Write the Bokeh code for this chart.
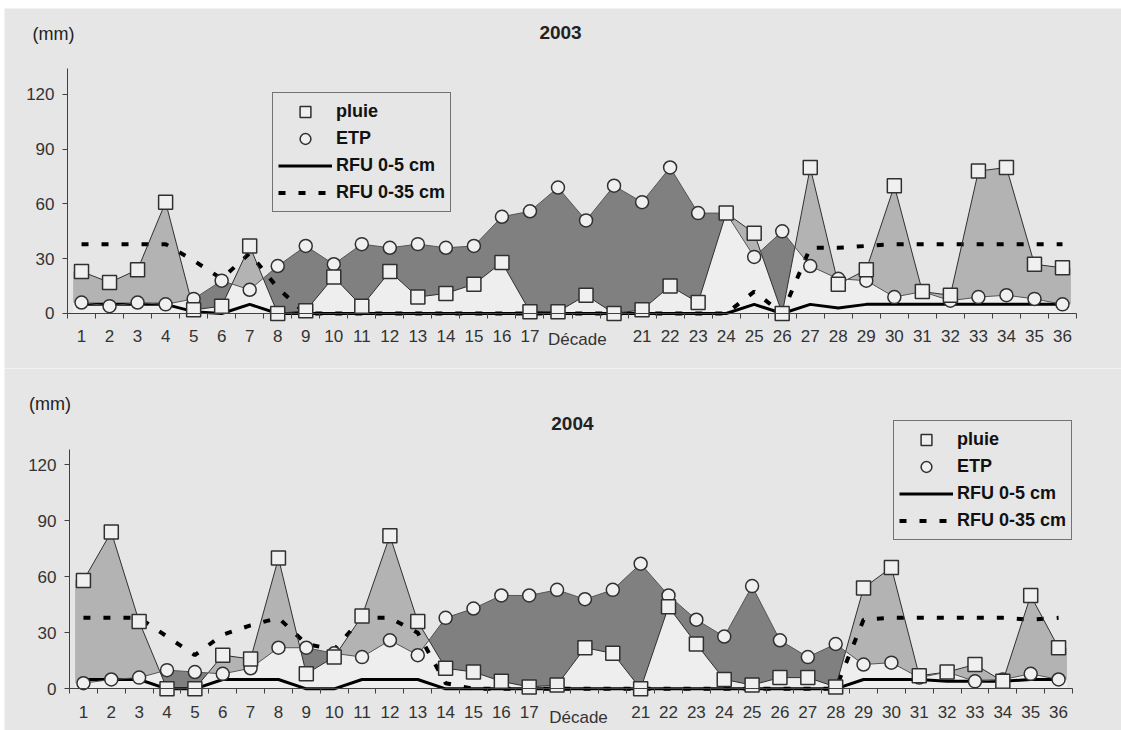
import numpy as np
from bokeh.plotting import figure
from bokeh.layouts import column
from bokeh.models import (Range1d, FixedTicker, Legend, LegendItem, Label,
                          LinearAxis)
from bokeh.embed import file_html
from bokeh.resources import INLINE

decades = list(range(1, 37))
x_tick_labels = {d: str(d) for d in decades if d not in (18, 19, 20)}
y_ticks = [0, 30, 60, 90, 120]

pluie_2003 = [23, 17, 24, 61, 2, 4, 37, 0, 1.5, 20, 4, 23, 9, 11, 16, 28, 1, 1,
              10, 0, 2, 15, 6, 55, 44, 0, 80, 16, 24, 70, 12, 10, 78, 80, 27, 25]
etp_2003 = [6, 4, 6, 5, 8, 18, 13, 26, 37, 27, 38, 36, 38, 36, 37, 53, 56, 69,
            51, 70, 61, 80, 55, 55, 31, 45, 26, 19, 18, 9, 12, 7, 9, 10, 8, 5]
rfu5_2003 = [5, 5, 5, 5, 1, 0, 5, 0, 0, 0, 0, 0, 0, 0, 0, 0, 0, 0,
             0, 0, 0, 0, 0, 0, 5, 0, 5, 3, 5, 5, 5, 5, 5, 5, 5, 5]
rfu35_2003 = [38, 38, 38, 38, 29, 19, 33, 14, 0, 0, 0, 0, 0, 0, 0, 0, 0, 0,
              0, 0, 0, 0, 0, 0, 12, 0, 36, 36, 37, 38, 38, 38, 38, 38, 38, 38]

pluie_2004 = [58, 84, 36, 0, 0, 18, 16, 70, 8, 17, 39, 82, 36, 11, 9, 4, 1, 2,
              22, 19, 0, 44, 24, 5, 2, 6, 6, 1, 54, 65, 7, 9, 13, 4, 50, 22]
etp_2004 = [3, 5, 6, 10, 9, 8, 11, 22, 22, 19, 17, 26, 18, 38, 43, 50, 50, 53,
            48, 53, 67, 50, 37, 28, 55, 26, 17, 24, 13, 14, 6, 9, 4, 5, 8, 5]
rfu5_2004 = [5, 5, 5, 0, 0, 5, 5, 5, 0, 0, 5, 5, 5, 0, 0, 0, 0, 0,
             0, 0, 0, 0, 0, 0, 0, 0, 0, 0, 5, 5, 5, 4, 4, 4, 5, 5]
rfu35_2004 = [38, 38, 38, 28, 18, 29, 34, 38, 24, 21, 38, 38, 30, 3, 0, 0, 0, 0,
              0, 0, 0, 0, 0, 0, 0, 0, 0, 0, 37, 38, 38, 38, 38, 38, 37, 38]

BG = "#e6e6e6"
UNDER = "#eeeeee"
LIGHT = "#b3b3b3"
DARK = "#808080"
FONT = "Liberation Sans"
EDGE = "#303030"
ROW_H = 27
PAD = 5
GLYPH_W = 54
FIG_W = 1121
LEFT_BORDER = 4


def densify(xv, p, e, pad=0.3):
    xs, ps, es = [xv[0] - pad], [p[0]], [e[0]]
    n = len(xv)
    for i in range(n):
        xs.append(xv[i]); ps.append(p[i]); es.append(e[i])
        if i < n - 1:
            d0 = p[i] - e[i]
            d1 = p[i + 1] - e[i + 1]
            if d0 * d1 < 0:
                t = d0 / (d0 - d1)
                yc = p[i] + t * (p[i + 1] - p[i])
                xs.append(xv[i] + t); ps.append(yc); es.append(yc)
    xs.append(xv[-1] + pad); ps.append(p[-1]); es.append(e[-1])
    return np.array(xs), np.array(ps, dtype=float), np.array(es, dtype=float)


def style_legend(lg, loc):
    lg.location = loc
    lg.label_text_font = FONT
    lg.label_text_font_size = "18px"
    lg.label_text_font_style = "bold"
    lg.label_text_color = "#111111"
    lg.glyph_width = GLYPH_W
    lg.glyph_height = ROW_H
    lg.label_height = ROW_H
    lg.spacing = 0
    lg.padding = PAD
    lg.margin = 0
    lg.label_standoff = 4
    lg.border_line_color = "black"
    lg.border_line_width = 1
    lg.background_fill_color = BG
    lg.background_fill_alpha = 1


def make_chart(pluie, etp, rfu5, rfu35, ymax, height, top_border, xr, yr, year,
               title_xy, mm_xy, decade_xy, legend_loc):
    p = figure(width=FIG_W, height=height, output_backend="svg",
               toolbar_location=None, x_range=Range1d(*xr),
               y_range=Range1d(*yr), min_border=0,
               min_border_left=LEFT_BORDER, min_border_top=top_border,
               x_axis_location=None, y_axis_location=None)
    p.background_fill_color = BG
    p.border_fill_color = "white"
    p.outline_line_color = None
    p.grid.visible = False

    xs, ps, es = densify(decades, pluie, etp)
    hi = np.maximum(ps, es)
    lo = np.minimum(ps, es)
    p.varea(x=xs, y1=np.zeros_like(lo), y2=lo, fill_color=UNDER)
    p.varea(x=xs, y1=es, y2=hi, fill_color=LIGHT)
    p.varea(x=xs, y1=ps, y2=hi, fill_color=DARK)

    r5 = p.line(decades, rfu5, line_color="black", line_width=3)
    r35 = p.line(decades, rfu35, line_color="black", line_width=4,
                 line_dash="7 13")
    p.line(decades, pluie, line_color=EDGE, line_width=1)
    p.line(decades, etp, line_color="#555555", line_width=1)
    se = p.scatter(decades, etp, marker="circle", size=13,
                   fill_color="#f0f0f0", line_color=EDGE, line_width=1.5)
    sp = p.scatter(decades, pluie, marker="square", size=14,
                   fill_color="#f0f0f0", line_color=EDGE, line_width=1.5)

    # axes
    xa = LinearAxis(fixed_location=0, bounds=(0.5, 36.5))
    xa.ticker = FixedTicker(ticks=list(x_tick_labels.keys()),
                            minor_ticks=[d + 0.5 for d in [0] + decades])
    xa.major_label_overrides = x_tick_labels
    xa.major_tick_in = 0
    xa.major_tick_out = 0
    xa.minor_tick_in = 0
    xa.minor_tick_out = 5
    xa.minor_tick_line_color = "#404040"
    xa.axis_line_color = "#404040"
    xa.major_label_standoff = 12
    xa.major_label_text_font = FONT
    xa.major_label_text_font_size = "17px"
    xa.major_label_text_color = "#333333"
    p.add_layout(xa, "below")

    ya = LinearAxis(fixed_location=0.5, bounds=(0, ymax))
    ya.ticker = FixedTicker(ticks=y_ticks, minor_ticks=[])
    ya.major_tick_in = 0
    ya.major_tick_out = 5
    ya.major_tick_line_color = "#404040"
    ya.axis_line_color = "#404040"
    ya.major_label_standoff = 8
    ya.major_label_text_font = FONT
    ya.major_label_text_font_size = "17px"
    ya.major_label_text_color = "#333333"
    p.add_layout(ya, "left")

    p.add_layout(Label(x=title_xy[0], y=title_xy[1], text=year,
                       text_font=FONT, text_font_size="19px",
                       text_font_style="bold", text_align="center",
                       text_baseline="middle", text_color="#222222"))
    p.add_layout(Label(x=mm_xy[0], y=mm_xy[1], text="(mm)",
                       text_font=FONT, text_font_size="18px",
                       text_align="left", text_baseline="middle",
                       text_color="#222222"))
    p.add_layout(Label(x=decade_xy[0], y=decade_xy[1], text="Décade",
                       text_font=FONT, text_font_size="17px",
                       text_align="center", text_baseline="middle",
                       text_color="#333333"))

    # boxed legend: markers, RFU lines and labels
    lg_main = Legend(items=[
        LegendItem(label="pluie", renderers=[sp]),
        LegendItem(label="ETP", renderers=[se]),
        LegendItem(label="RFU 0-5 cm", renderers=[r5]),
        LegendItem(label="RFU 0-35 cm", renderers=[r35]),
    ])
    style_legend(lg_main, legend_loc)
    p.add_layout(lg_main, "center")

    # thin connector lines of the pluie / ETP legend samples, drawn on top
    frame_w = FIG_W - LEFT_BORDER
    frame_h = height - top_border
    kx = frame_w / (xr[1] - xr[0])
    ky = frame_h / (yr[1] - yr[0])
    lx, ly = legend_loc
    top = ly + 4 * ROW_H + 2 * PAD
    gx0 = lx + PAD + 1
    gx1 = lx + PAD + GLYPH_W - 1
    gmid = lx + PAD + GLYPH_W / 2
    for row, col in ((0, EDGE), (1, "#555555")):
        yc = top - PAD - ROW_H * row - ROW_H / 2
        yd = yr[0] + yc / ky
        x0s = [xr[0] + gx0 / kx, xr[0] + (gmid + 5) / kx]
        x1s = [xr[0] + (gmid - 5) / kx, xr[0] + gx1 / kx]
        p.segment(x0=x0s, y0=[yd, yd], x1=x1s, y1=[yd, yd],
                  line_color=col, line_width=1, level="overlay")
    return p


p1 = make_chart(pluie_2003, etp_2003, rfu5_2003, rfu35_2003,
                ymax=134.2, height=368, top_border=8,
                xr=(-1.748, 38.105), yr=(-30.14, 167.1),
                year="2003",
                title_xy=(18.09, 154), mm_xy=(-0.75, 153.4),
                decade_xy=(18.69, -14.2), legend_loc=(268, 156))
p2 = make_chart(pluie_2004, etp_2004, rfu5_2004, rfu35_2004,
                ymax=128, height=362, top_border=0,
                xr=(-1.833, 38.259), yr=(-22.33, 171.56),
                year="2004",
                title_xy=(18.55, 142), mm_xy=(-0.95, 152.8),
                decade_xy=(18.77, -15.5), legend_loc=(889, 190))

layout = column(p1, p2, spacing=0)
open("out.html", "w").write(file_html(layout, INLINE))
